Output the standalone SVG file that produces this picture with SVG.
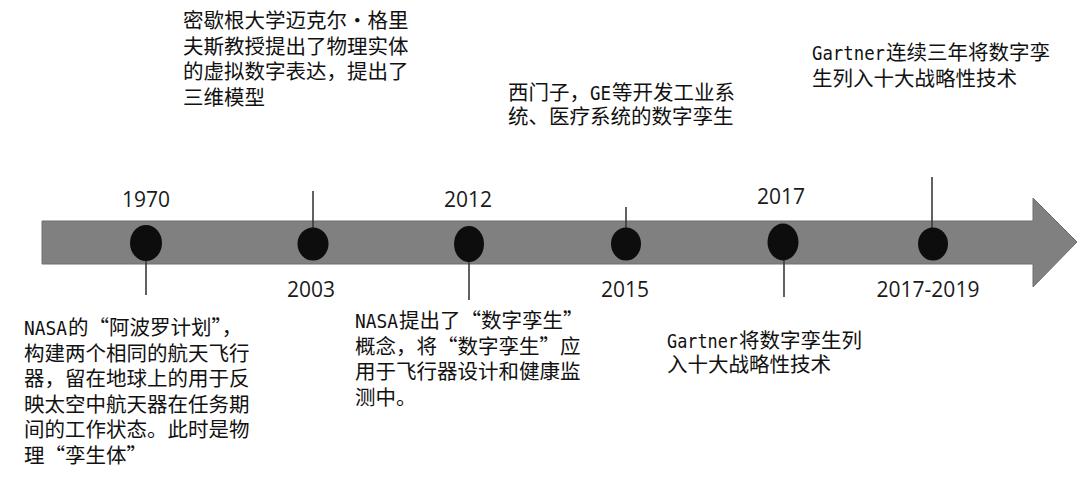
<svg xmlns="http://www.w3.org/2000/svg" width="1080" height="495" viewBox="0 0 1080 495">
<style>
.bar{fill:#808080;stroke:#6f6f6f;stroke-width:1}
.dot{fill:#0d0d0d}
.tick{stroke:#3a3a3a;stroke-width:1.6;fill:none}
.yr{font-family:"Open Sans","Noto Sans",sans-serif;font-size:21px;fill:#1a1a1a}
.desc{font-family:"Noto Sans CJK SC","Noto Sans",sans-serif;font-size:20.5px;fill:#111111}
.lat{font-family:"DejaVu Sans Mono","Liberation Mono",monospace;font-size:19.5px;fill:#111111}
</style>
<rect width="1080" height="495" fill="#ffffff"/>
<g id="timeline">
<path class="bar" d="M42,221 H1033 V198 L1077,242 L1033,287 V264 H42 Z"/>
</g>
<g id="connectors">
<line class="tick" x1="146" y1="258" x2="146" y2="295"/>
<line class="tick" x1="313" y1="191" x2="313" y2="230"/>
<line class="tick" x1="469" y1="260" x2="469" y2="300"/>
<line class="tick" x1="626" y1="207" x2="626" y2="230"/>
<line class="tick" x1="784" y1="258" x2="784" y2="297"/>
<line class="tick" x1="932" y1="177" x2="932" y2="230"/>
</g>
<g id="n1970">
<ellipse class="dot" cx="146" cy="243" rx="16" ry="18"/>
<text class="yr" x="146" y="207" text-anchor="middle">1970</text>
<text class="lat" x="24" y="335" textLength="43" lengthAdjust="spacingAndGlyphs">NASA</text>
<text class="desc" x="68" y="335">的“阿波罗计划”，</text>
<text class="desc" x="24" y="361">构建两个相同的航天飞行</text>
<text class="desc" x="24" y="386">器，留在地球上的用于反</text>
<text class="desc" x="24" y="412">映太空中航天器在任务期</text>
<text class="desc" x="24" y="437">间的工作状态。此时是物</text>
<text class="desc" x="24" y="463">理“孪生体”</text>
</g>
<g id="n2003">
<ellipse class="dot" cx="313" cy="244" rx="15.5" ry="16.5"/>
<text class="yr" x="311" y="297" text-anchor="middle">2003</text>
<text class="desc" x="183" y="28">密歇根大学迈克尔·格里</text>
<text class="desc" x="183" y="54">夫斯教授提出了物理实体</text>
<text class="desc" x="183" y="79">的虚拟数字表达，提出了</text>
<text class="desc" x="183" y="105">三维模型</text>
</g>
<g id="n2012">
<ellipse class="dot" cx="469" cy="244" rx="15" ry="18"/>
<text class="yr" x="468" y="207" text-anchor="middle">2012</text>
<text class="lat" x="355" y="328" textLength="43" lengthAdjust="spacingAndGlyphs">NASA</text>
<text class="desc" x="399" y="328">提出了“数字孪生”</text>
<text class="desc" x="355" y="354">概念，将“数字孪生”应</text>
<text class="desc" x="355" y="379">用于飞行器设计和健康监</text>
<text class="desc" x="355" y="405">测中。</text>
</g>
<g id="n2015">
<ellipse class="dot" cx="626" cy="244" rx="15" ry="16.5"/>
<text class="yr" x="625" y="297" text-anchor="middle">2015</text>
<text class="desc" x="508" y="100">西门子，</text>
<text class="lat" x="590" y="100" textLength="21" lengthAdjust="spacingAndGlyphs">GE</text>
<text class="desc" x="612" y="100">等开发工业系</text>
<text class="desc" x="508" y="124">统、医疗系统的数字孪生</text>
</g>
<g id="n2017">
<ellipse class="dot" cx="783" cy="242" rx="15.5" ry="18.5"/>
<text class="yr" x="781" y="204" text-anchor="middle">2017</text>
<text class="lat" x="667" y="348" textLength="71" lengthAdjust="spacingAndGlyphs">Gartner</text>
<text class="desc" x="739" y="348">将数字孪生列</text>
<text class="desc" x="667" y="372">入十大战略性技术</text>
</g>
<g id="n2017-2019">
<ellipse class="dot" cx="933" cy="244" rx="15" ry="16.5"/>
<text class="yr" x="928" y="297" text-anchor="middle">2017-2019</text>
<text class="lat" x="812" y="60" textLength="73" lengthAdjust="spacingAndGlyphs">Gartner</text>
<text class="desc" x="886" y="60">连续三年将数字孪</text>
<text class="desc" x="812" y="86">生列入十大战略性技术</text>
</g>
</svg>
